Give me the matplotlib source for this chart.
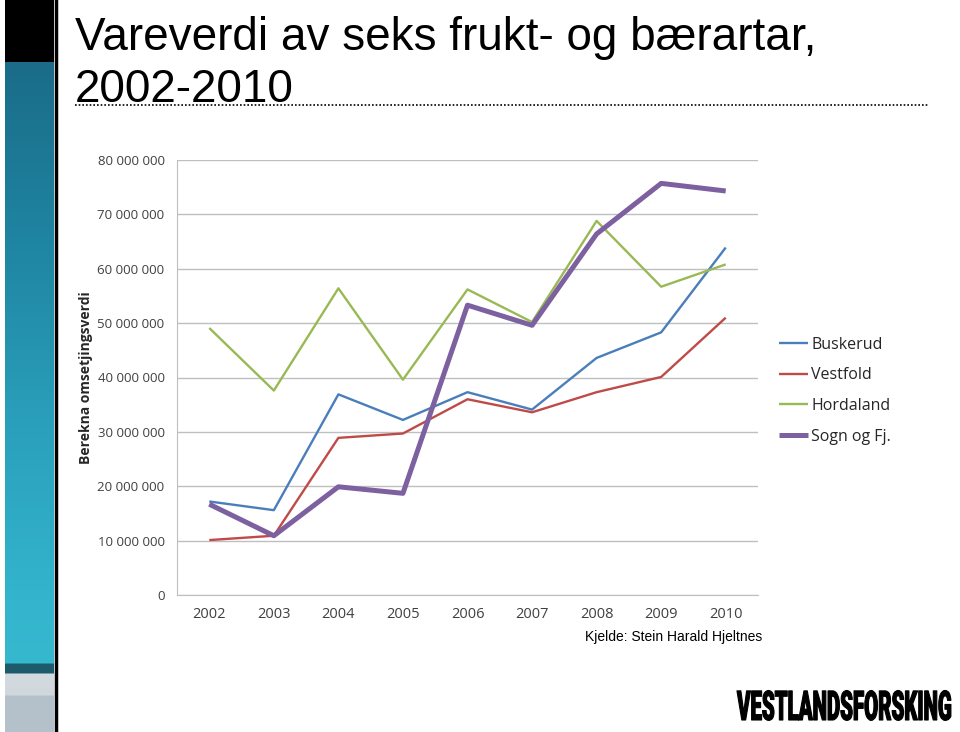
import numpy as np
import matplotlib
matplotlib.use("Agg")
import matplotlib.pyplot as plt
from matplotlib.ticker import FuncFormatter
from matplotlib.patheffects import AbstractPathEffect
from matplotlib.transforms import Affine2D
from matplotlib.colors import to_rgb

years = ["2002", "2003", "2004", "2005", "2006", "2007", "2008", "2009", "2010"]

buskerud = [17.2, 15.6, 36.9, 32.2, 37.3, 34.1, 43.6, 48.3, 63.9]
vestfold = [10.1, 10.9, 28.9, 29.7, 36.0, 33.6, 37.3, 40.1, 51.0]
hordaland = [49.1, 37.6, 56.4, 39.6, 56.2, 50.2, 68.8, 56.7, 60.8]
sogn = [16.7, 10.9, 19.9, 18.7, 53.3, 49.6, 66.4, 75.7, 74.3]

series_names = ["Buskerud", "Vestfold", "Hordaland", "Sogn og Fj."]
series_colors = ["#4a7ebb", "#be4b48", "#98b954", "#7d60a0"]

tick_font = ["Open Sans", "DejaVu Sans"]


class Squeeze(AbstractPathEffect):
    # squeeze text horizontally around x0 (display px) and thicken strokes a bit
    def __init__(self, sx, x0, lw=1.0):
        super().__init__()
        self.sx, self.x0, self.lw = sx, x0, lw

    def draw_path(self, renderer, gc, tpath, affine, rgbFace=None):
        a = affine + Affine2D().translate(-self.x0, 0).scale(self.sx, 1).translate(self.x0, 0)
        gc0 = renderer.new_gc()
        gc0.copy_properties(gc)
        gc0.set_linewidth(self.lw)
        gc0.set_foreground(rgbFace if rgbFace is not None else "black")
        renderer.draw_path(gc0, tpath, a, rgbFace)
        gc0.restore()


fig = plt.figure(figsize=(9.6, 7.32), dpi=100)

# left decorative strip
stops = [(0, "#000000"), (61, "#000000"), (62, "#1a6c88"), (250, "#1f86a3"),
         (420, "#2a9fbb"), (600, "#34b5cd"), (662, "#36b8cf"), (664, "#1d5a6c"),
         (672, "#1d5a6c"), (674, "#d3dbe1"), (694, "#d0d8de"), (696, "#b4c0ca"), (732, "#b4c0ca")]
rows = np.arange(732)
ys = [s[0] for s in stops]
cols = np.array([to_rgb(s[1]) for s in stops])
img = np.stack([np.interp(rows, ys, cols[:, k]) for k in range(3)], axis=-1)[:, None, :]
strip = fig.add_axes([5 / 960, 0, 49 / 960, 1])
strip.imshow(img, aspect="auto", extent=[0, 1, 1, 0], interpolation="nearest")
strip.set_axis_off()
fig.add_artist(plt.Line2D([55.5 / 960, 55.5 / 960], [0, 1], color="black", lw=2.5))

# title
fig.text(75 / 960, 1 - 50 / 732, "Vareverdi av seks frukt- og bærartar,", fontsize=33,
         family="Liberation Sans", ha="left", va="baseline")
fig.text(75 / 960, 1 - 102 / 732, "2002-2010", fontsize=33,
         family="Liberation Sans", ha="left", va="baseline")
fig.add_artist(plt.Line2D([75 / 960, 928 / 960], [1 - 105 / 732, 1 - 105 / 732],
                          color="black", lw=1.2, ls=(0, (1, 1.2))))

ax = fig.add_axes([177 / 960, 137 / 732, 581 / 960, 435 / 732])
x = np.arange(len(years))
for name, vals_, col in zip(series_names, [buskerud, vestfold, hordaland, sogn], series_colors):
    lw = 3.6 if name == "Sogn og Fj." else 1.7
    ax.plot(x, np.array(vals_) * 1e6, color=col, lw=lw, label=name, solid_capstyle="butt")

ax.set_xlim(-0.5, len(years) - 0.5)
ax.set_ylim(0, 80e6)
ax.set_yticks(np.arange(0, 80e6 + 1, 10e6))
ax.yaxis.set_major_formatter(FuncFormatter(lambda v, p: f"{int(v):,}".replace(",", " ")))
ax.set_xticks(x)
ax.set_xticklabels(years)
ax.grid(axis="y", color="#bfbfbf", lw=1)
ax.set_axisbelow(True)
for s in ["top", "right"]:
    ax.spines[s].set_visible(False)
ax.spines["left"].set_color("#bfbfbf")
ax.spines["bottom"].set_color("#bfbfbf")
ax.tick_params(axis="y", length=0, labelsize=9.5, labelcolor="#404040", pad=9)
ax.tick_params(axis="x", length=0, labelsize=10.5, labelcolor="#404040", pad=9)
for lab in ax.get_xticklabels() + ax.get_yticklabels():
    lab.set_family(tick_font)
ax.set_ylabel("Berekna omsetjingsverdi", fontsize=10, fontweight="bold",
              family=tick_font, color="#262626", labelpad=3)

leg = ax.legend(loc="center left", bbox_to_anchor=(1.012, 0.47), frameon=False,
                handlelength=1.8, handletextpad=0.2, labelspacing=0.92,
                prop={"family": tick_font, "size": 11.5})
for t in leg.get_texts():
    t.set_color("#262626")

fig.text(585 / 960, 1 - 641 / 732, "Kjelde: Stein Harald Hjeltnes", fontsize=10,
         family="Liberation Sans", ha="left", va="baseline")

logo = fig.text(952 / 960, 1 - 720 / 732, "VESTLANDSFORSKING", fontsize=29.5, fontweight="heavy",
                family=["Roboto", "Liberation Sans"], ha="right", va="baseline")
fig.canvas.draw()
w = logo.get_window_extent().width
logo.set_path_effects([Squeeze(215 / w, 952 * fig.dpi / 100, lw=0.8)])

fig.savefig("out.png", dpi=100)
